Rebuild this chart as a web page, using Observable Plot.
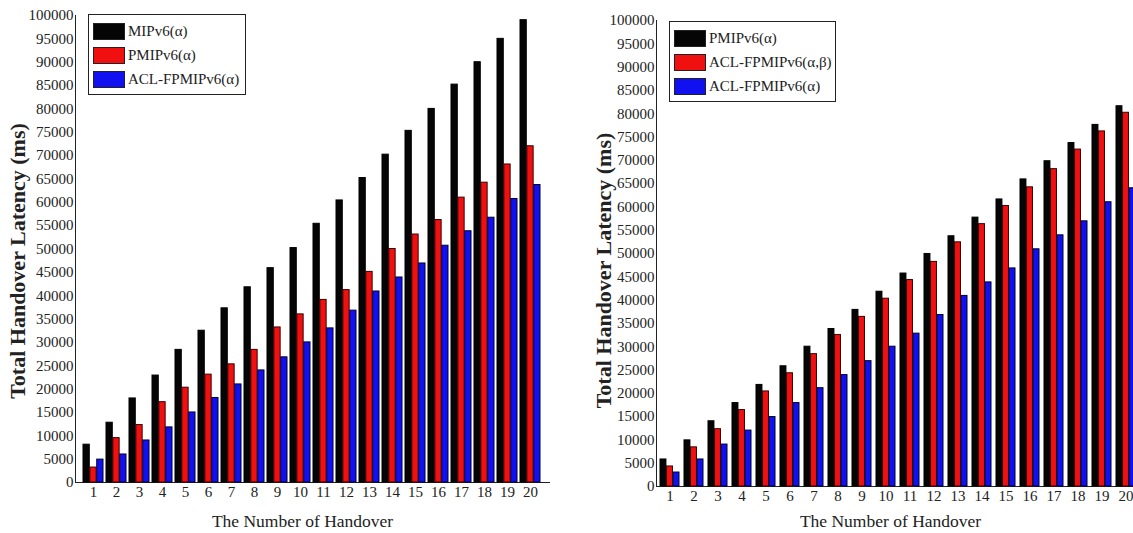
<!DOCTYPE html>
<html>
<head>
<meta charset="utf-8">
<script src="https://cdn.jsdelivr.net/npm/d3@7"></script>
<script src="https://cdn.jsdelivr.net/npm/@observablehq/plot@0.6"></script>
<style>
  html, body { margin: 0; padding: 0; background: #fff; overflow: hidden; }
  #wrap { position: relative; width: 1133px; height: 533px; overflow: hidden; }
  .panel { position: absolute; top: 0; }
  .legend { position: absolute; border: 1px solid #222; background: #fff; font-family: "Liberation Serif", serif; font-size: 15px; color: #222; padding: 4px 4px 3px 4px; box-sizing: border-box; white-space: nowrap; }
  .legend .row { display: flex; align-items: center; height: 24px; white-space: nowrap; }
  .legend .sw { width: 32px; height: 17px; border: 1px solid #222; margin-right: 3px; box-sizing: border-box; flex: none; }
</style>
</head>
<body>
<div id="wrap"></div>
<script>
const handovers = [1,2,3,4,5,6,7,8,9,10,11,12,13,14,15,16,17,18,19,20];
const yTicks = [0,5000,10000,15000,20000,25000,30000,35000,40000,45000,50000,55000,60000,65000,70000,75000,80000,85000,90000,95000,100000];

// Left panel series
const leftNames = ["MIPv6(\u03b1)", "PMIPv6(\u03b1)", "ACL-FPMIPv6(\u03b1)"];
const leftMIPv6 = [8100,12800,18000,22900,28400,32500,37300,41800,45900,50200,55400,60400,65200,70200,75300,80000,85200,90000,95000,99000];
const leftPMIPv6 = [3200,9500,12300,17200,20300,23100,25300,28400,33200,36000,39100,41200,45100,50000,53100,56200,61000,64200,68100,72000];
const leftACL = [4900,6000,9000,11800,15000,18100,21000,24000,26800,30000,33000,36800,40900,43900,46900,50700,53800,56700,60700,63700];

// Right panel series
const rightNames = ["PMIPv6(\u03b1)", "ACL-FPMIPv6(\u03b1,\u03b2)", "ACL-FPMIPv6(\u03b1)"];
const rightPMIPv6 = [5800,9900,14000,17900,21800,25800,30000,33800,37900,41800,45700,49900,53700,57700,61600,65900,69800,73700,77600,81600];
const rightACLab = [4300,8400,12300,16400,20400,24300,28400,32500,36400,40300,44300,48200,52400,56300,60200,64200,68100,72300,76200,80200];
const rightACLa = [3000,5800,9000,12000,14900,17900,21100,23900,26900,30000,32800,36800,40900,43800,46800,50900,53900,56900,61000,64000];

const fills = ["#050505", "#f01010", "#1010f0"];
const strokes = ["#000", "#3a0000", "#000033"];
const yLabel = "Total Handover Latency (ms)";
const xLabel = "The Number of Handover";

function panel(cfg) {
  const {width, height, marginLeft, marginRight, marginTop, marginBottom, pIn, pOut, series} = cfg;
  const xs = Plot.scale({x: {type: "band", domain: handovers, range: [marginLeft, width - marginRight], paddingInner: pIn, paddingOuter: pOut}});
  const bw = xs.bandwidth;
  const third = bw / 3;
  const marks = series.map((vals, i) => Plot.barY(handovers.map((h, j) => ({h, v: vals[j]})), {
    x: "h", y: "v",
    fill: fills[i], stroke: strokes[i], strokeWidth: 1,
    insetLeft: i * third, insetRight: (2 - i) * third
  }));
  return Plot.plot({
    width, height, marginLeft, marginRight, marginTop, marginBottom,
    style: {fontFamily: "Liberation Serif, serif", fontSize: "15px", color: "#222", background: "#fff", overflow: "visible"},
    x: {type: "band", domain: handovers, paddingInner: pIn, paddingOuter: pOut, tickSize: 0, tickPadding: 4, line: true, label: null},
    y: {domain: [0, 100000], ticks: yTicks, tickFormat: d => String(d), tickSize: 0, tickPadding: 2, line: true, label: null},
    marks: [
      ...marks,
      Plot.text([yLabel], {frameAnchor: "left", textAnchor: "middle", rotate: -90, dx: cfg.yLabelDx, dy: cfg.yLabelDy, fontSize: 22, fontWeight: "bold", fill: "#222", text: d => d}),
      Plot.text([xLabel], {frameAnchor: "bottom", textAnchor: "middle", dx: cfg.xLabelDx, dy: cfg.xLabelDy, fontSize: 17.5, fill: "#222", text: d => d})
    ]
  });
}

const wrap = document.getElementById("wrap");

const left = panel({
  width: 566, height: 533, marginLeft: 75, marginRight: 17, marginTop: 15, marginBottom: 51,
  pIn: 0.13, pOut: 0.085,
  series: [leftMIPv6, leftPMIPv6, leftACL],
  yLabelDx: -58, yLabelDy: 12, xLabelDx: -10, xLabelDy: 44
});
left.classList.add("panel");
left.style.left = "0px";
wrap.appendChild(left);

const right = panel({
  width: 574, height: 533, marginLeft: 90, marginRight: 0, marginTop: 20, marginBottom: 47,
  pIn: 0.19, pOut: 0.1,
  series: [rightPMIPv6, rightACLab, rightACLa],
  yLabelDx: -53, yLabelDy: 17, xLabelDx: -8, xLabelDy: 40
});
right.classList.add("panel");
right.style.left = "566px";
wrap.appendChild(right);

function legend(names, left, top, width) {
  const div = document.createElement("div");
  div.className = "legend";
  div.style.left = left + "px";
  div.style.top = top + "px";
  div.style.width = width + "px";
  names.forEach((n, i) => {
    const row = document.createElement("div");
    row.className = "row";
    const sw = document.createElement("div");
    sw.className = "sw";
    sw.style.background = fills[i];
    const t = document.createElement("span");
    t.textContent = n;
    row.appendChild(sw);
    row.appendChild(t);
    div.appendChild(row);
  });
  wrap.appendChild(div);
}
legend(leftNames, 88, 14, 158);
legend(rightNames, 669, 21, 167);
</script>
</body>
</html>
